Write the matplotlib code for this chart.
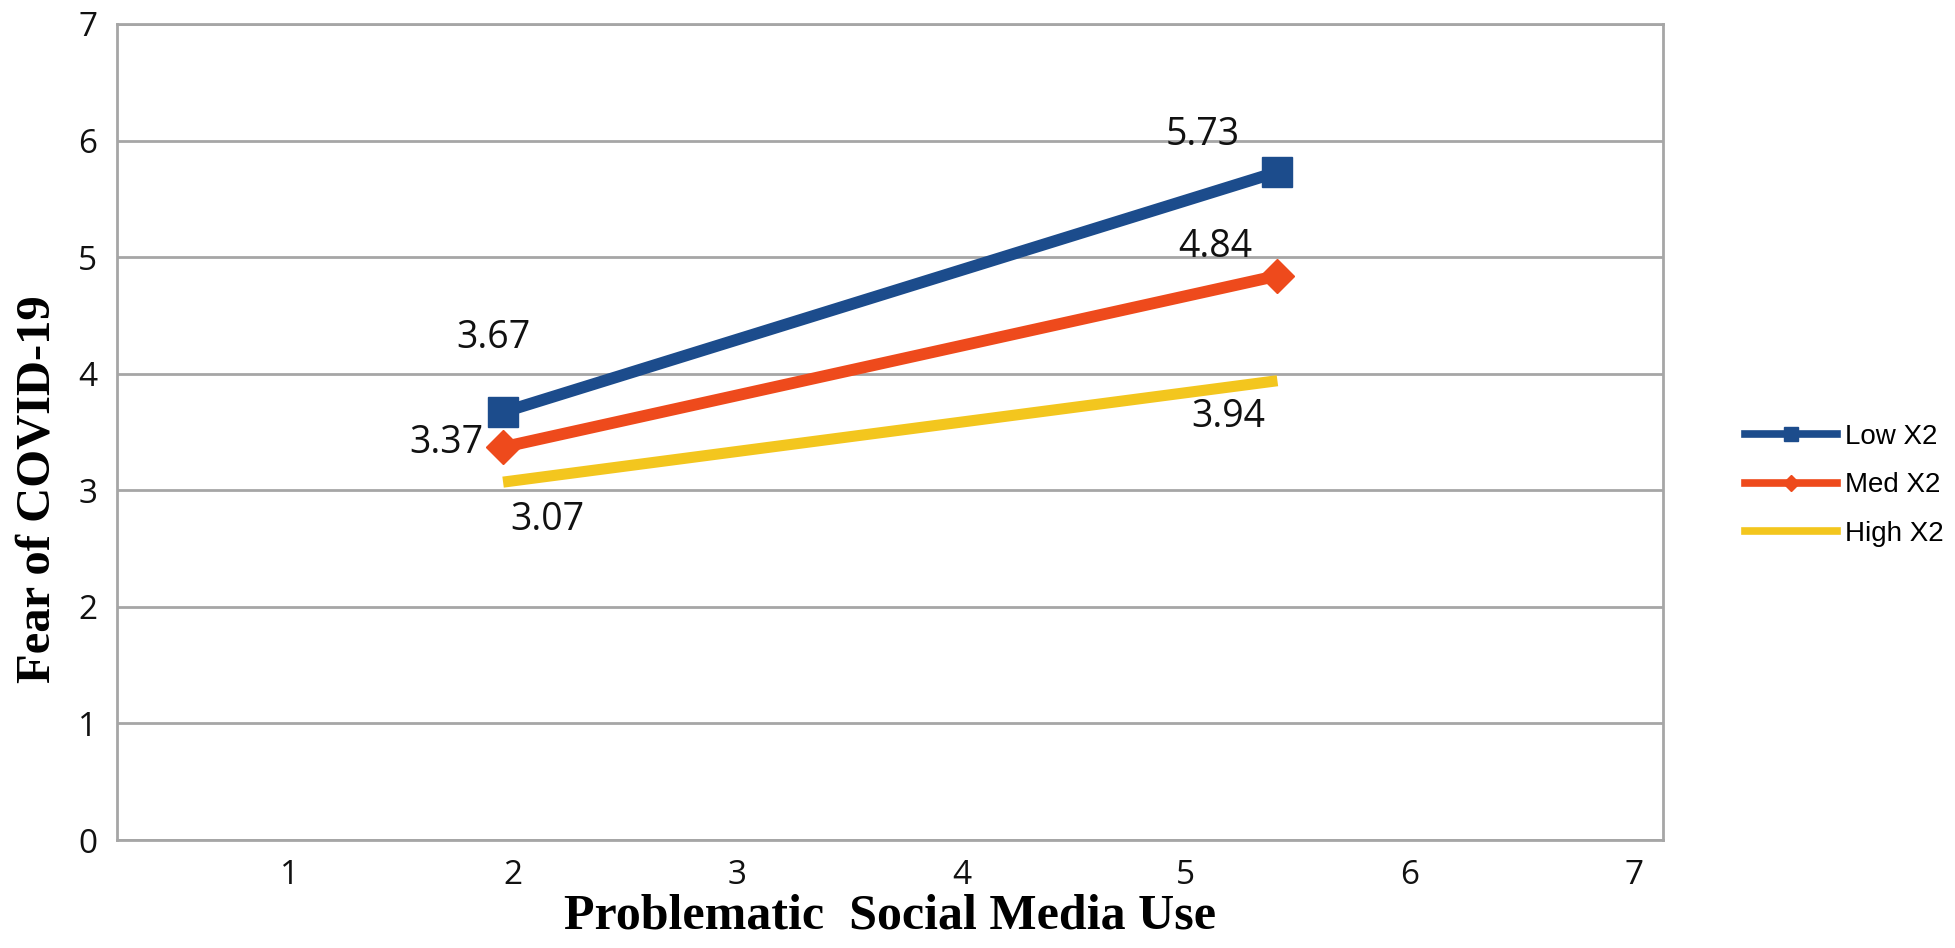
import matplotlib
matplotlib.use("Agg")
import matplotlib.pyplot as plt
from matplotlib.lines import Line2D

# ---- data ----
x_vals = [1.955, 5.41]
series_names = ["Low X2", "Med X2", "High X2"]
low_vals = [3.67, 5.73]
med_vals = [3.37, 4.84]
high_vals = [3.07, 3.94]
x_ticks = [1, 2, 3, 4, 5, 6, 7]
y_ticks = [0, 1, 2, 3, 4, 5, 6, 7]
x_label = "Problematic  Social Media Use"
y_label = "Fear of COVID-19"

colors = ["#1C4C8C", "#EE4A1C", "#F3C61E"]

fig = plt.figure(figsize=(19.55, 9.48), dpi=100)
ax = fig.add_axes([0.0598, 0.1139, 0.7908, 0.8608])

ax.set_xlim(0.232, 7.13)
ax.set_ylim(0, 7)

# gridlines
ax.set_yticks(y_ticks)
ax.set_xticks(x_ticks)
ax.yaxis.grid(True, color="#A6A6A6", linewidth=2.0)
ax.set_axisbelow(True)
for s in ax.spines.values():
    s.set_color("#A6A6A6")
    s.set_linewidth(2.0)
ax.tick_params(axis="both", length=0, labelsize=24, colors="#111111", pad=14)
for lab in ax.get_xticklabels() + ax.get_yticklabels():
    lab.set_family("Open Sans")

ax.plot(x_vals, low_vals, color=colors[0], linewidth=8.5, marker="s",
        markersize=21, markerfacecolor=colors[0], markeredgecolor=colors[0],
        solid_capstyle="butt", zorder=5)
ax.plot(x_vals, med_vals, color=colors[1], linewidth=8.5, marker="D",
        markersize=17, markerfacecolor=colors[1], markeredgecolor=colors[1],
        solid_capstyle="butt", zorder=4)
ax.plot(x_vals, high_vals, color=colors[2], linewidth=8, solid_capstyle="butt", zorder=3)

# data labels
lab_kw = dict(fontsize=27, family="Open Sans", color="#111111", va="center")
ax.text(1.911, 4.31, f"{low_vals[0]:.2f}", ha="center", **lab_kw)
ax.text(1.866, 3.405, f"{med_vals[0]:.2f}", ha="right", **lab_kw)
ax.text(2.152, 2.744, f"{high_vals[0]:.2f}", ha="center", **lab_kw)
ax.text(5.076, 6.046, f"{low_vals[1]:.2f}", ha="center", **lab_kw)
ax.text(5.134, 5.086, f"{med_vals[1]:.2f}", ha="center", **lab_kw)
ax.text(5.192, 3.628, f"{high_vals[1]:.2f}", ha="center", **lab_kw)

# axis labels
fig.text(0.455, 0.033, x_label, fontsize=36, fontweight="bold",
         family="Liberation Serif", ha="center", va="center")
fig.text(0.019, 0.484, y_label, fontsize=35, fontweight="bold",
         family="Liberation Serif", ha="center", va="center", rotation=90)

# legend
handles = [
    Line2D([], [], color=colors[0], linewidth=5.5, marker="s", markersize=10),
    Line2D([], [], color=colors[1], linewidth=5.5, marker="D", markersize=8),
    Line2D([], [], color=colors[2], linewidth=5.5),
]
fig.legend(handles, series_names, loc="center left",
           bbox_to_anchor=(0.880, 0.488), frameon=False,
           prop={"family": "Liberation Sans", "size": 20},
           handlelength=3.3, handletextpad=0.3, labelspacing=0.8)

fig.savefig("out.png", dpi=100, facecolor="white")
